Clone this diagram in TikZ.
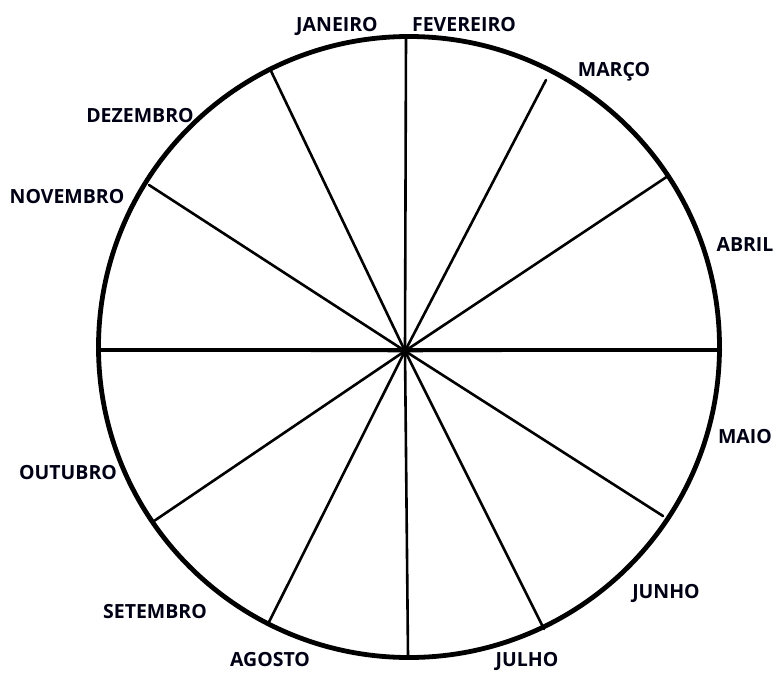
\documentclass[tikz,border=0pt]{standalone}
\usepackage{fontspec}
\setmainfont{Open Sans}
\tikzset{
  % contorno da roda
  rim/.style={line width=4.8pt, black},
  % raio que separa os meses
  spoke/.style={line width=2.6pt, black, line cap=round},
  % nome do mes
  month/.style={font=\bfseries\fontsize{19.5}{22}\selectfont, inner sep=0pt, text=black!92!blue},
}
\begin{document}
\begin{tikzpicture}[x=1pt, y=-1pt]
  \useasboundingbox (0,0) rectangle (773,672);
  % roda
  \node[circle, draw, rim, minimum size=621pt, inner sep=0pt] (roda) at (409,347) {};
  \coordinate (c) at (405,351);
  % pontas dos raios
  \coordinate (r0) at (406,36);
  \coordinate (r1) at (546,80);
  \coordinate (r2) at (668,176);
  \coordinate (r3) at (721,350);
  \coordinate (r4) at (663,516);
  \coordinate (r5) at (544,629);
  \coordinate (r6) at (408,656);
  \coordinate (r7) at (269,622);
  \coordinate (r8) at (154,521);
  \coordinate (r9) at (98,350);
  \coordinate (r10) at (149,185);
  \coordinate (r11) at (271,71);
  \foreach \i in {0,...,11}
    \draw[spoke] (c) -- (r\i);
  \draw[spoke, line width=3.2pt, line cap=butt] (r9) -- (r3);
  % meses
  \node[month] (jan) at (337,26) {JANEIRO};
  \node[month] (fev) at (464,25) {FEVEREIRO};
  \node[month] (mar) at (614,72) {MARÇO};
  \node[month] (abr) at (745,245) {ABRIL};
  \node[month] (mai) at (745,437) {MAIO};
  \node[month] (jun) at (666,593) {JUNHO};
  \node[month] (jul) at (527,661) {JULHO};
  \node[month] (ago) at (270,660) {AGOSTO};
  \node[month] (set) at (155,612) {SETEMBRO};
  \node[month] (out) at (68,473) {OUTUBRO};
  \node[month] (nov) at (67,197) {NOVEMBRO};
  \node[month] (dez) at (140,116) {DEZEMBRO};
\end{tikzpicture}
\end{document}
